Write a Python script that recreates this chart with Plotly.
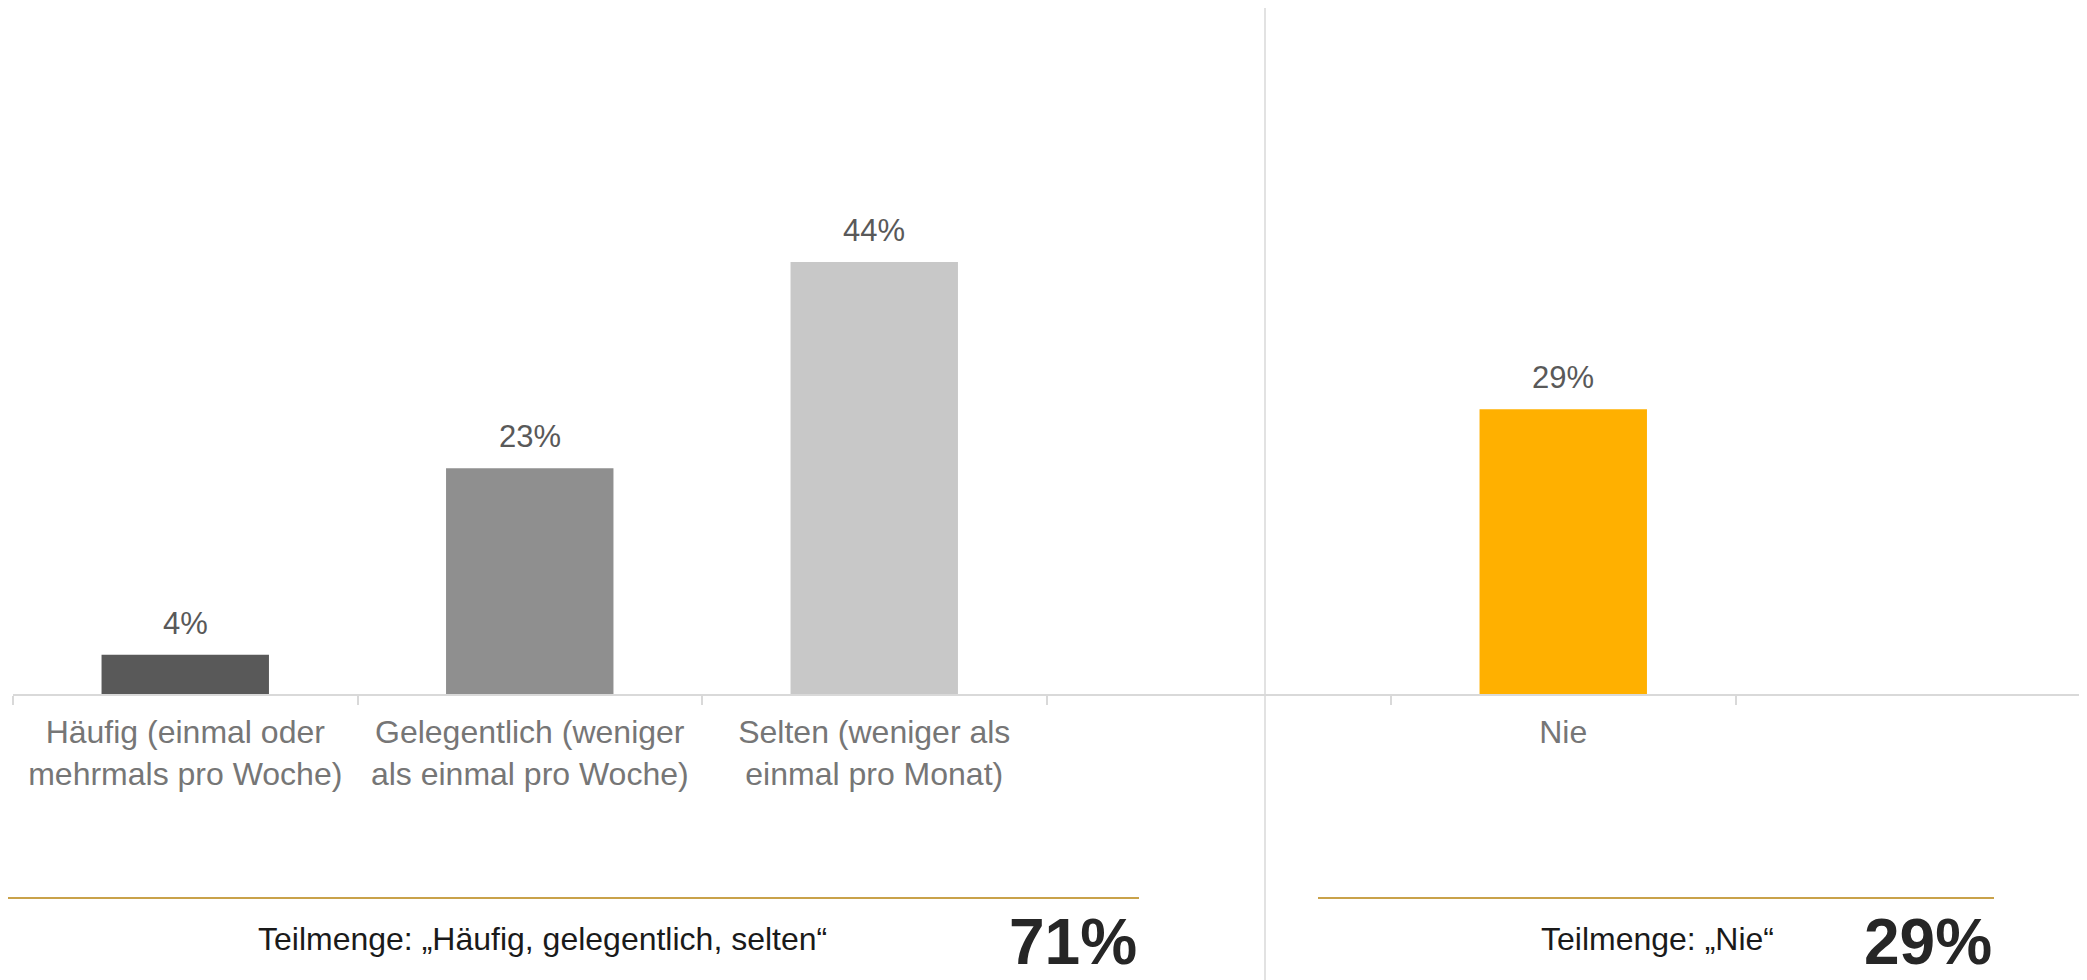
import plotly.graph_objects as go

# data
categories = [
    "Häufig (einmal oder<br>mehrmals pro Woche)",
    "Gelegentlich (weniger<br>als einmal pro Woche)",
    "Selten (weniger als<br>einmal pro Monat)",
    " ",
    "Nie",
    "  ",
]
values = [4, 23, 44, None, 29, None]
bar_colors = ["#595959", "#8f8f8f", "#c8c8c8", "#ffffff", "#ffb000", "#ffffff"]
subset_labels = ["Teilmenge: „Häufig, gelegentlich, selten“", "Teilmenge: „Nie“"]
subset_values = [sum(values[:3]), values[4]]

# the page body has an 8px margin, so the figure starts at (8, 8)
OFF = 8
W, H = 2087 - OFF, 980 - OFF
PLOT_LEFT, PLOT_RIGHT, PLOT_TOP, BASELINE = 13, 2080, 20, 694
L, R, T, B = PLOT_LEFT - OFF, 2087 - PLOT_RIGHT, PLOT_TOP - OFF, 980 - BASELINE
PLOT_W = PLOT_RIGHT - PLOT_LEFT
PLOT_H = BASELINE - PLOT_TOP
FONT = "Liberation Sans, Arial, sans-serif"
GRID = "#d9d9d9"
GOLD = "#c9a24a"


def px_x(px):
    return (px - PLOT_LEFT) / PLOT_W


def px_y(py):
    return (BASELINE - py) / PLOT_H


fig = go.Figure()
fig.add_trace(
    go.Bar(
        x=categories,
        y=values,
        marker=dict(color=bar_colors, line=dict(width=0)),
        hoverinfo="skip",
    )
)

# value labels above the bars
for cat, val in zip(categories, values):
    if val is None:
        continue
    fig.add_annotation(
        x=cat, y=val, xref="x", yref="y",
        text=f"{val}%", showarrow=False,
        yanchor="bottom", yshift=12,
        font=dict(family=FONT, size=31, color="#595959"),
    )

# divider between the two groups
fig.add_shape(
    type="line", xref="paper", yref="paper",
    x0=px_x(1265), x1=px_x(1265), y0=px_y(980), y1=px_y(7),
    line=dict(color=GRID, width=1.5), layer="below",
)

# gold lines and subset totals
groups = [
    dict(x0=0, x1=1139, text_cx=542),
    dict(x0=1318, x1=1994, text_cx=1657),
]
for g, label, total in zip(groups, subset_labels, subset_values):
    fig.add_shape(
        type="line", xref="paper", yref="paper",
        x0=px_x(g["x0"]), x1=px_x(g["x1"]), y0=px_y(898), y1=px_y(898),
        line=dict(color=GOLD, width=2),
    )
    fig.add_annotation(
        x=px_x(g["text_cx"]), y=px_y(939), xref="paper", yref="paper",
        text=label, showarrow=False, xanchor="center", yanchor="middle",
        font=dict(family=FONT, size=32, color="#1a1a1a"),
    )
    fig.add_annotation(
        x=px_x(g["x1"]), y=px_y(942), xref="paper", yref="paper",
        text=f"<b>{total}%</b>", showarrow=False, xanchor="right", yanchor="middle",
        font=dict(family=FONT, size=64, color="#262626"),
    )

fig.update_layout(
    width=W,
    height=H,
    margin=dict(l=L, r=R, t=T, b=B),
    paper_bgcolor="white",
    plot_bgcolor="white",
    showlegend=False,
    bargap=0.514,
    font=dict(family=FONT),
    xaxis=dict(
        type="category",
        categoryorder="array",
        categoryarray=categories,
        range=[-0.5, 5.5],
        showline=True,
        linecolor=GRID,
        linewidth=2,
        ticks="outside",
        tickson="boundaries",
        ticklen=9,
        tickwidth=1.5,
        tickcolor=GRID,
        ticklabelstandoff=9,
        showgrid=False,
        tickfont=dict(family=FONT, size=32, color="#767676"),
        fixedrange=True,
    ),
    yaxis=dict(
        range=[0, PLOT_H / 9.82],
        visible=False,
        showgrid=False,
        zeroline=False,
        fixedrange=True,
    ),
)

fig.write_html("out.html")
